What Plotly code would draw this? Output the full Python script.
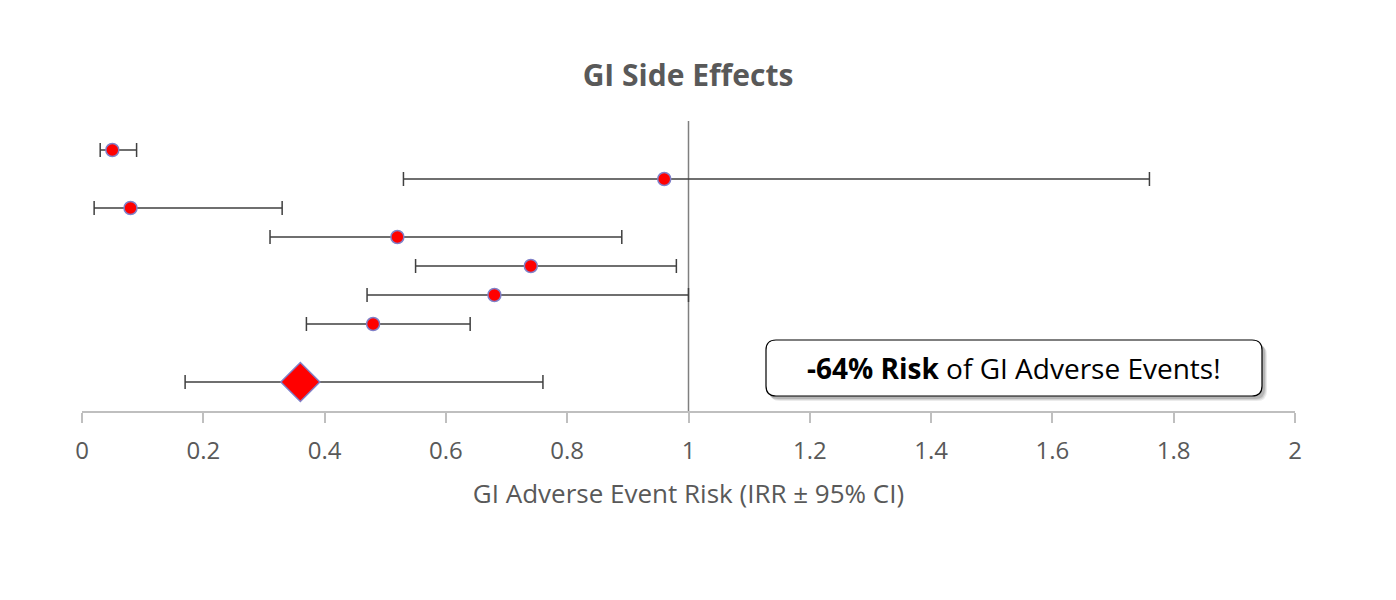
import plotly.graph_objects as go

# Data
study_rows = [9, 8, 7, 6, 5, 4, 3]
study_irr = [0.05, 0.96, 0.08, 0.52, 0.74, 0.68, 0.48]
study_lo = [0.03, 0.53, 0.02, 0.31, 0.55, 0.47, 0.37]
study_hi = [0.09, 1.76, 0.33, 0.89, 0.98, 1.00, 0.64]

pooled_row = [1]
pooled_irr = [0.36]
pooled_lo = [0.17]
pooled_hi = [0.76]

ref_x = [1, 1]
ref_y = [0, 10]

tick_vals = [0, 0.2, 0.4, 0.6, 0.8, 1, 1.2, 1.4, 1.6, 1.8, 2]
tick_text = ["0", "0.2", "0.4", "0.6", "0.8", "1", "1.2", "1.4", "1.6", "1.8", "2"]

FONT = "Open Sans"
GRAY = "#595959"
ERR = "#404040"

fig = go.Figure()

fig.add_trace(go.Scatter(
    x=ref_x, y=ref_y, mode="lines",
    line=dict(color="#7f7f7f", width=1.5),
    hoverinfo="skip", showlegend=False,
))

fig.add_trace(go.Scatter(
    x=study_irr, y=study_rows, mode="markers",
    marker=dict(symbol="circle", size=13, color="#ff0000",
                line=dict(color="#8080c8", width=1.5)),
    error_x=dict(type="data", symmetric=False,
                 array=[h - v for h, v in zip(study_hi, study_irr)],
                 arrayminus=[v - l for v, l in zip(study_irr, study_lo)],
                 color=ERR, thickness=1.5, width=7),
    showlegend=False,
))

fig.add_trace(go.Scatter(
    x=pooled_irr, y=pooled_row, mode="markers",
    marker=dict(symbol="diamond", size=30, color="#ff0000",
                line=dict(color="#8080c8", width=1.5)),
    error_x=dict(type="data", symmetric=False,
                 array=[h - v for h, v in zip(pooled_hi, pooled_irr)],
                 arrayminus=[v - l for v, l in zip(pooled_irr, pooled_lo)],
                 color=ERR, thickness=1.5, width=7),
    showlegend=False,
))

# Rounded box with shadow (paper coords)
def rrect(x0, y0, x1, y1, rx, ry):
    return (f"M {x0+rx},{y0} L {x1-rx},{y0} Q {x1},{y0} {x1},{y0+ry} "
            f"L {x1},{y1-ry} Q {x1},{y1} {x1-rx},{y1} L {x0+rx},{y1} "
            f"Q {x0},{y1} {x0},{y1-ry} L {x0},{y0+ry} Q {x0},{y0} {x0+rx},{y0} Z")

W, H = 1213.0, 290.0
bx0, bx1 = (766 - 82) / W, (1262 - 82) / W
by0, by1 = (411 - 396) / H, (411 - 340) / H
rx, ry = 10 / W, 10 / H
for i, op in enumerate([0.08, 0.10, 0.14]):
    off = (5 - i)
    fig.add_shape(type="path", xref="paper", yref="paper",
                  path=rrect(bx0 + (off - 1) / W, by0 - off / H, bx1 + off / W, by1 - off / H, rx, ry),
                  fillcolor="#000000", opacity=op, line=dict(width=0), layer="above")
fig.add_shape(type="path", xref="paper", yref="paper",
              path=rrect(bx0, by0, bx1, by1, rx, ry),
              fillcolor="#ffffff", line=dict(color="#000000", width=1.2), layer="above")

fig.add_annotation(xref="paper", yref="paper", x=(bx0 + bx1) / 2, y=(by0 + by1) / 2,
                   text="<b>-64% Risk</b> of GI Adverse Events!", showarrow=False,
                   font=dict(family=FONT, size=28, color="#000000"),
                   xanchor="center", yanchor="middle")

fig.update_layout(
    width=1396, height=600,
    margin=dict(l=74, r=109, t=113, b=197),
    paper_bgcolor="white", plot_bgcolor="white",
    title=dict(text="<b>GI Side Effects</b>", x=(688 - 8) / 1396, xanchor="center",
               y=1 - 67 / 600, yanchor="middle",
               font=dict(family=FONT, size=30, color=GRAY)),
    xaxis=dict(range=[0, 2], tickvals=tick_vals, ticktext=tick_text,
               showgrid=False, zeroline=False, showline=True,
               linecolor="#bfbfbf", linewidth=1.5,
               ticks="outside", ticklen=10, tickcolor="#bfbfbf", tickwidth=1.5,
               ticklabelstandoff=7,
               tickfont=dict(family=FONT, size=24, color=GRAY),
               title=dict(text="GI Adverse Event Risk (IRR ± 95% CI)", standoff=20,
                          font=dict(family=FONT, size=26, color=GRAY))),
    yaxis=dict(range=[0, 10], visible=False),
)

fig.write_html("out.html")
